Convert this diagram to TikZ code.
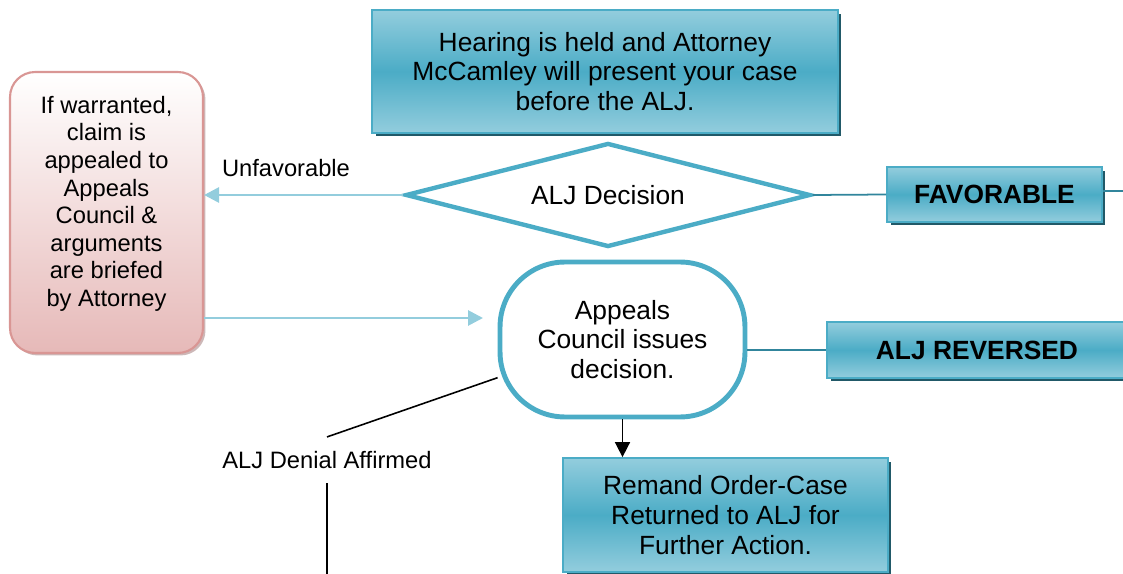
\documentclass[tikz,border=0pt]{standalone}
\usepackage{fontspec}
\setmainfont{Liberation Sans}
\usepackage{tikz}
\usetikzlibrary{shapes.geometric,shadows,arrows.meta}

\definecolor{tealmid}{HTML}{4BACC6}
\definecolor{teallite}{HTML}{93CDDD}
\definecolor{tealdark}{HTML}{215968}
\definecolor{tealline}{HTML}{31859C}
\definecolor{pinkfill}{HTML}{E6B9B8}
\definecolor{pinkline}{HTML}{D99694}
\definecolor{pinkshad}{HTML}{B89A9A}

\begin{document}
\begin{tikzpicture}[x=0.02cm,y=-0.02cm,
    tealbox/.style={draw=tealmid,line width=1pt,top color=teallite,bottom color=teallite,
      middle color=tealmid,drop shadow={shadow xshift=.07cm,shadow yshift=-.07cm,
      fill=tealdark,opacity=1},align=center,inner sep=0pt,
      font=\fontsize{15}{17}\selectfont},
    pinkbox/.style={draw=pinkline,line width=1.2pt,rounded corners=.5cm,top color=white,
      bottom color=pinkfill,drop shadow={shadow xshift=.05cm,shadow yshift=-.05cm,
      fill=pinkshad,opacity=.7},align=center,inner sep=0pt,
      font=\fontsize{13.5}{15.7}\selectfont},
    decbox/.style={diamond,draw=tealmid,line width=2.5pt,fill=white,aspect=3.9,inner sep=0pt,
      font=\fontsize{15}{17}\selectfont},
    termbox/.style={draw=tealmid,line width=2.8pt,fill=white,rounded corners=1.3cm,
      align=center,inner sep=0pt,font=\fontsize{15}{17}\selectfont},
    lbl/.style={font=\fontsize{13.5}{15.7}\selectfont,inner sep=0pt},
    bluearrow/.style={draw=teallite,line width=1.6pt,
      -{Triangle[length=.3cm,width=.3cm]}},
    tealconn/.style={draw=tealline,line width=1pt},
    blackline/.style={draw=black,line width=.9pt}]

  \useasboundingbox (0,0) rectangle (1123,574);

  %% boxes
  \node[tealbox,minimum width=9.32cm,minimum height=2.46cm] (hear) at (605,71.5)
    {Hearing is held and Attorney\\McCamley will present your case\\before the ALJ.};
  \node[pinkbox,minimum width=3.86cm,minimum height=5.62cm,text depth=.45cm] (appl) at (106.5,212.5)
    {If warranted,\\claim is\\appealed to\\Appeals\\Council \&\\arguments\\are briefed\\by Attorney};
  \node[decbox,minimum width=8.1cm,minimum height=2.08cm] (dec) at (608,195) {ALJ Decision};
  \node[tealbox,minimum width=4.3cm,minimum height=1.1cm,font=\fontsize{15}{17}\bfseries] (fav)
    at (994.5,194.5) {FAVORABLE};
  \node[termbox,minimum width=4.9cm,minimum height=3.1cm] (acd) at (622.5,339.5)
    {Appeals\\Council issues\\decision.};
  \node[tealbox,minimum width=6cm,minimum height=1.12cm,font=\fontsize{15}{17}\bfseries] (rev)
    at (977,350) {ALJ REVERSED};
  \node[tealbox,minimum width=6.5cm,minimum height=2.28cm] (rem) at (725.5,515)
    {Remand Order-Case\\Returned to ALJ for\\Further Action.};

  %% labels
  \node[lbl] (unf) at (286,168) {Unfavorable};
  \node[lbl,inner ysep=.28cm] (aff) at (327,460) {ALJ Denial Affirmed};

  %% free ends
  \coordinate (toac) at (483,318);
  \coordinate (favout) at (1123,191);
  \coordinate (affout) at (327,574);

  %% connectors
  \draw[bluearrow] (dec.west) -- (dec.west -| appl.east);
  \draw[bluearrow] (appl.east |- toac) -- (toac);
  \draw[tealconn] (dec.east) -- (fav.west);
  \draw[tealconn] (fav.east |- favout) -- (favout);
  \draw[tealconn] (acd.east |- rev.west) -- (rev.west);
  \draw[blackline,-{Triangle[length=.3cm,width=.3cm]}] (acd.south) -- (acd.south |- rem.north);
  \draw[blackline] (acd.197) -- (aff.north);
  \draw[blackline] (aff.south) -- (affout);
\end{tikzpicture}
\end{document}
